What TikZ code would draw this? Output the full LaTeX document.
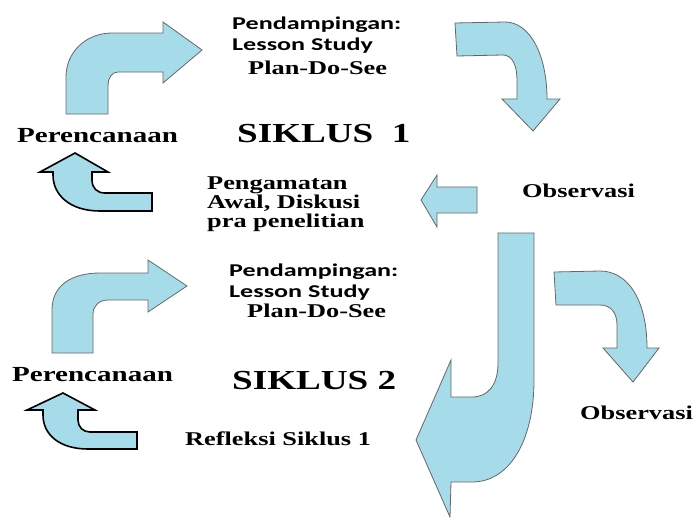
\documentclass[tikz,border=0pt]{standalone}
\usepackage{fontspec}
\usepackage{xcolor}
\usetikzlibrary{positioning}
\newfontfamily\serifwide[FakeStretch=1.35]{Liberation Serif}
\newfontfamily\sanswide[FakeStretch=1.45]{Carlito}
\definecolor{arrowblue}{RGB}{166,220,234}

\begin{document}
\begin{tikzpicture}[
    x=1pt, y=-1pt,
    blockarrow/.style={fill=arrowblue, draw=black!60, line width=0.8pt, line join=miter},
    smallarrow/.style={fill=arrowblue, draw=black, line width=1.6pt, line join=miter},
    lbl/.style={anchor=base west, inner sep=0pt, font=\serifwide\bfseries\fontsize{19.5}{18.5}\selectfont},
    renc/.style={lbl, font=\serifwide\bfseries\fontsize{21.5}{22}\selectfont},
    multi/.style={anchor=north west, inner sep=0pt, align=left, font=\serifwide\bfseries\fontsize{19.5}{19}\selectfont},
    pend/.style={anchor=north west, inner sep=0pt, align=left, font=\sanswide\bfseries\fontsize{18}{21.5}\selectfont},
    siklus/.style={anchor=base west, inner sep=0pt, font=\serifwide\bfseries\fontsize{27.5}{30}\selectfont}
]
    \useasboundingbox (0,0) rectangle (695,517);

    % Siklus 1: arrows
    \filldraw[blockarrow] (66,114) -- (66,77) .. controls (66,52) and (86,33) .. (112,33) -- (163,33) -- (163,22)
        -- (202,50) -- (163,83) -- (163,72) -- (118,72) .. controls (112,72) and (108,78) .. (108,85) -- (108,114) -- cycle;
    \filldraw[blockarrow] (455,23) -- (505,22) .. controls (530,22) and (547,55) .. (547,99) -- (560,99)
        -- (533,131) -- (502,99) -- (517,99) -- (517,80) .. controls (517,65) and (512,55) .. (503,55) -- (457,56) -- cycle;
    \filldraw[blockarrow] (477,187) -- (477,213) -- (437,213) -- (437,227) -- (421,200) -- (437,175) -- (437,187) -- cycle;
    \filldraw[smallarrow] (152,211) -- (100,211) .. controls (70,211) and (53,195) .. (53,175) -- (53,172) -- (40,172)
        -- (75,153) -- (108,172) -- (92,172) -- (92,180) .. controls (92,188) and (97,193) .. (105,193) -- (152,193) -- cycle;

    % Siklus 2: arrows
    \filldraw[blockarrow] (52,353) -- (52,310) .. controls (52,285) and (72,273) .. (100,273) -- (148,273) -- (148,260)
        -- (187,286) -- (148,312) -- (148,300) -- (108,300) .. controls (99,300) and (93,306) .. (93,314) -- (93,353) -- cycle;
    \filldraw[blockarrow] (554,272) -- (600,271) .. controls (628,271) and (647,300) .. (647,348) -- (659,348)
        -- (633,382) -- (603,348) -- (617,348) -- (617,325) .. controls (617,313) and (611,305) .. (600,305) -- (556,305) -- cycle;
    \filldraw[smallarrow] (137,449) -- (88,449) .. controls (60,449) and (43,435) .. (43,415) -- (43,410) -- (27,410)
        -- (63,393) -- (95,410) -- (78,410) -- (78,420) .. controls (78,427) and (83,432) .. (90,432) -- (137,432) -- cycle;

    % Panah besar (J)
    \filldraw[blockarrow] (498,233) -- (498,363) .. controls (498,385) and (488,397) .. (472,397) -- (451,397) -- (451,360)
        -- (416,440) -- (450,517) -- (451,482) -- (472,482) .. controls (510,482) and (534,440) .. (534,380) -- (534,233) -- cycle;

    % Siklus 1: labels
    \node[pend] (pend1) at (232,16.5) {Pendampingan:\\Lesson Study};
    \node[lbl] (pds1) at (248,74) {Plan-Do-See};
    \node[renc] (renc1) at (17,142) {Perencanaan};
    \node[siklus] (sik1) at (237,142) {SIKLUS\ \ 1};
    \node[multi] (awal) at (207,177) {Pengamatan\\Awal, Diskusi\\pra penelitian};
    \node[lbl] (obs1) at (522,197) {Observasi};

    % Siklus 2: labels
    \node[pend] (pend2) at (229,263.5) {Pendampingan:\\Lesson Study};
    \node[lbl] (pds2) at (247,317.5) {Plan-Do-See};
    \node[renc] (renc2) at (12,381) {Perencanaan};
    \node[siklus] (sik2) at (232,389) {SIKLUS 2};
    \node[lbl] (refl) at (185,445) {Refleksi Siklus 1};
    \node[lbl] (obs2) at (580,419) {Observasi};
\end{tikzpicture}
\end{document}
